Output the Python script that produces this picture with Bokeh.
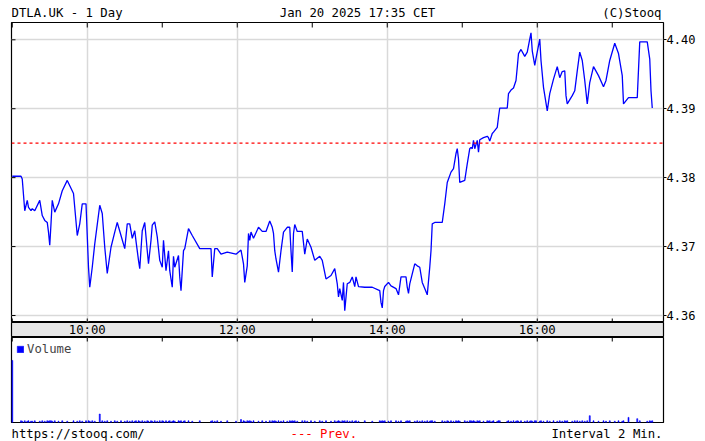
from bokeh.plotting import figure
from bokeh.models import (Range1d, FixedTicker, LinearAxis, Grid, Span,
                          Legend, LegendItem, PrintfTickFormatter)
from bokeh.layouts import column
from bokeh.embed import file_html
from bokeh.resources import INLINE
from bokeh.core.properties import value

# ---------------- data (minutes after 09:00, price, volume) ----------------
minutes = [
    0, 7, 8, 10, 12, 13, 15, 16, 18, 22,
    24, 26, 28, 29, 30, 31, 32, 34, 37, 40,
    44, 49, 52, 54, 56, 59, 61, 62, 64, 66,
    70, 72, 74, 76, 79, 82, 84, 87, 90, 92,
    94, 96, 98, 99, 101, 102, 104, 106, 108, 109,
    111, 112, 114, 116, 118, 120, 121, 123, 125, 126,
    128, 129, 130, 133, 134, 135, 137, 138, 141, 144,
    150, 159, 160, 162, 164, 167, 172, 179, 183, 185,
    186, 188, 189, 190, 191, 193, 197, 200, 203, 206,
    208, 209, 210, 211, 213, 215, 217, 220, 222, 223,
    224, 225, 226, 228, 232, 234, 236, 239, 242, 246,
    248, 251, 255, 258, 260, 261, 262, 264, 265, 266,
    268, 270, 272, 274, 275, 277, 282, 288, 294, 295,
    296, 297, 298, 301, 303, 307, 309, 311, 315, 316,
    317, 318, 322, 324, 326, 328, 330, 332, 334, 335,
    336, 338, 344, 346, 348, 349, 351, 353, 355, 356,
    357, 358, 362, 364, 366, 367, 368, 369, 370, 372,
    373, 374, 377, 380, 381, 382, 384, 385, 388, 389,
    390, 396, 397, 399, 401, 403, 404, 405, 407, 410,
    412, 414, 415, 416, 418, 419, 422, 423, 425, 428,
    430, 433, 436, 438, 440, 442, 443, 444, 448, 450,
    452, 454, 456, 458, 460, 462, 465, 469, 473, 475,
    478, 482, 485, 488, 489, 493, 500, 502, 508, 510,
    511, 512,
]
prices = [
    4.3802, 4.3802, 4.3798, 4.3752, 4.3767, 4.3757, 4.3752, 4.3755, 4.3752, 4.3767,
    4.3745, 4.3738, 4.3735, 4.3721, 4.3702, 4.3733, 4.3767, 4.3750, 4.3762, 4.3781,
    4.3796, 4.3777, 4.3716, 4.3733, 4.3762, 4.3762, 4.3670, 4.3641, 4.3670, 4.3704,
    4.3760, 4.3748, 4.3699, 4.3661, 4.3699, 4.3721, 4.3735, 4.3716, 4.3697, 4.3733,
    4.3733, 4.3712, 4.3723, 4.3708, 4.3680, 4.3668, 4.3723, 4.3735, 4.3694, 4.3675,
    4.3709, 4.3731, 4.3736, 4.3714, 4.3680, 4.3670, 4.3709, 4.3665, 4.3694, 4.3665,
    4.3641, 4.3686, 4.3670, 4.3687, 4.3656, 4.3636, 4.3694, 4.3697, 4.3726, 4.3716,
    4.3697, 4.3697, 4.3656, 4.3697, 4.3697, 4.3689, 4.3692, 4.3689, 4.3695, 4.3675,
    4.3648, 4.3672, 4.3719, 4.3709, 4.3721, 4.3712, 4.3728, 4.3722, 4.3722, 4.3737,
    4.3728, 4.3719, 4.3694, 4.3682, 4.3663, 4.3694, 4.3721, 4.3728, 4.3728, 4.3694,
    4.3663, 4.3719, 4.3732, 4.3722, 4.3722, 4.3689, 4.3711, 4.3699, 4.3680, 4.3686,
    4.3680, 4.3653, 4.3658, 4.3668, 4.3646, 4.3627, 4.3639, 4.3622, 4.3648, 4.3607,
    4.3646, 4.3648, 4.3656, 4.3642, 4.3656, 4.3642, 4.3641, 4.3641, 4.3636, 4.3619,
    4.3611, 4.3636, 4.3642, 4.3648, 4.3643, 4.3639, 4.3630, 4.3656, 4.3656, 4.3641,
    4.3632, 4.3646, 4.3675, 4.3672, 4.3670, 4.3648, 4.3639, 4.3630, 4.3670, 4.3694,
    4.3733, 4.3735, 4.3735, 4.3762, 4.3793, 4.3798, 4.3808, 4.3813, 4.3835, 4.3842,
    4.3827, 4.3793, 4.3796, 4.3820, 4.3842, 4.3844, 4.3842, 4.3854, 4.3842, 4.3854,
    4.3837, 4.3855, 4.3858, 4.3860, 4.3858, 4.3853, 4.3864, 4.3866, 4.3873, 4.3888,
    4.3901, 4.3901, 4.3922, 4.3927, 4.3930, 4.3941, 4.3960, 4.3980, 4.3986, 4.3976,
    4.3982, 4.4001, 4.4010, 4.3984, 4.3963, 4.3973, 4.4001, 4.3970, 4.3931, 4.3897,
    4.3922, 4.3943, 4.3961, 4.3945, 4.3954, 4.3955, 4.3919, 4.3907, 4.3919, 4.3926,
    4.3955, 4.3982, 4.3970, 4.3941, 4.3907, 4.3938, 4.3961, 4.3948, 4.3932, 4.3941,
    4.3970, 4.3995, 4.3980, 4.3948, 4.3907, 4.3916, 4.3916, 4.3997, 4.3997, 4.3972,
    4.3926, 4.3901,
]
volume = [
    73, 2, 1.5, 2, 1.5, 2, 1.5, 1.5, 2, 1.5,
    2, 1.5, 2, 1.5, 2, 2, 1.5, 2, 1.5, 2,
    1.5, 2, 1.5, 2, 1.5, 2, 2, 1.5, 2, 1.5,
    10, 2, 1.5, 2, 1.5, 2, 1.5, 2, 1.5, 2,
    1.5, 2, 1.5, 2, 2, 1.5, 2, 1.5, 2, 1.5,
    2, 1.5, 2, 1.5, 2, 2, 1.5, 2, 1.5, 2,
    1.5, 2, 1.5, 2, 1.5, 2, 1.5, 2, 2, 1.5,
    2, 1.5, 2, 1.5, 2, 1.5, 2, 1.5, 3.5, 2,
    1.5, 2, 1.5, 2, 1.5, 2, 1.5, 2, 1.5, 2,
    2, 1.5, 2, 1.5, 2, 1.5, 2, 1.5, 2, 1.5,
    2, 1.5, 2, 1.5, 2, 2, 1.5, 2, 1.5, 2,
    1.5, 2, 1.5, 2, 1.5, 2, 1.5, 2, 1.5, 2,
    2, 1.5, 2, 1.5, 2, 1.5, 2, 1.5, 2, 1.5,
    2, 1.5, 2, 1.5, 2, 2, 1.5, 2, 1.5, 2,
    1.5, 2, 1.5, 2, 1.5, 2, 1.5, 2, 1.5, 2,
    2, 1.5, 2, 1.5, 2, 1.5, 2, 1.5, 2, 1.5,
    2, 1.5, 2, 1.5, 2, 2, 1.5, 2, 1.5, 2,
    1.5, 2, 1.5, 2, 1.5, 2, 1.5, 2, 1.5, 2,
    2, 1.5, 2, 1.5, 2, 1.5, 2, 1.5, 2, 1.5,
    2, 1.5, 2, 1.5, 2, 2, 1.5, 2, 1.5, 2,
    1.5, 2, 1.5, 2, 1.5, 2, 1.5, 2, 1.5, 2,
    2, 1.5, 2, 1.5, 2, 8, 2, 1.5, 2, 1.5,
    2, 1.5, 2, 1.5, 2, 6, 4.5, 2, 1.5, 2,
    1.5, 2,
]
prev_close = 4.385

hour_ticks = [0, 60, 120, 180, 240, 300, 360, 420, 480]
label_ticks = [60, 180, 300, 420]
tick_labels = ["10:00", "12:00", "14:00", "16:00"]
price_ticks = [4.36, 4.37, 4.38, 4.39, 4.40]

title_left = "DTLA.UK - 1 Day"
title_mid = "Jan 20 2025 17:35 CET"
title_right = "(C)Stooq"
foot_left = "https://stooq.com/"
foot_mid = "--- Prev."
foot_right = "Interval 2 Min."

# ---------------- styling / layout ----------------
MONO = "DejaVu Sans Mono"
FS = "12.3px"
W = 705
BL, BR = 11, 42                 # every frame spans page x 11 .. 663
FRAME_W = W - BL - BR
GRID = "#d9d9d9"
LINE = "#0000ff"
COMMON = dict(output_backend="svg", toolbar_location=None,
              x_axis_location=None, y_axis_location=None)

x_range = Range1d(-0.6, 521.0)
x_per_px = (x_range.end - x_range.start) / FRAME_W


def clean(fig):
    fig.grid.visible = False
    fig.min_border_left = BL
    fig.min_border_right = BR


def text_fig(height, items):
    # frame spans page x BL..W-BR, so use page pixels as coordinates
    h = figure(width=W, height=height, x_range=Range1d(BL, W - BR), y_range=Range1d(0, height),
               min_border_top=0, min_border_bottom=0, outline_line_color=None, **COMMON)
    clean(h)
    for txt, xx, yy, al, col in items:
        h.text(x=[xx], y=[yy], text=[txt], text_font=value(MONO), text_font_size=FS,
               text_align=al, text_baseline="middle", text_color=col)
    return h


# ---------------- header ----------------
head = text_fig(21, [(title_left, 11, 9, "left", "black"),
                     (title_mid, 357, 9, "center", "black"),
                     (title_right, 661, 9, "right", "black")])

# ---------------- price panel ----------------
PFRAME = 300
y_range = Range1d(4.358984, 4.402510)
y_per_px = (y_range.end - y_range.start) / PFRAME
p = figure(width=W, height=PFRAME + 1, x_range=x_range, y_range=y_range,
           min_border_top=1, min_border_bottom=0, **COMMON)
clean(p)
p.outline_line_color = "black"
p.outline_line_width = 1.2
p.add_layout(Grid(dimension=0, ticker=FixedTicker(ticks=label_ticks), grid_line_color=GRID, grid_line_width=1.5), "center")
p.add_layout(Grid(dimension=1, ticker=FixedTicker(ticks=price_ticks), grid_line_color=GRID, grid_line_width=1.5), "center")

ry = LinearAxis(ticker=FixedTicker(ticks=price_ticks), major_tick_in=0, major_tick_out=3,
                minor_tick_line_color=None, axis_line_color=None, major_label_standoff=0,
                major_label_text_font=MONO, major_label_text_font_size="12px",
                major_label_text_color="black",
                formatter=PrintfTickFormatter(format="%.2f"))
p.add_layout(ry, "right")

# inner tick marks (top, bottom: hourly; left: price ticks)
n_h = len(hour_ticks)
p.segment(x0=hour_ticks, x1=hour_ticks, y0=[y_range.end] * n_h,
          y1=[y_range.end - 5 * y_per_px] * n_h, line_color="black", line_width=1)
p.segment(x0=hour_ticks, x1=hour_ticks, y0=[y_range.start] * n_h,
          y1=[y_range.start + 4 * y_per_px] * n_h, line_color="black", line_width=1)
n_p = len(price_ticks)
p.segment(x0=[x_range.start] * n_p, x1=[x_range.start + 4 * x_per_px] * n_p,
          y0=price_ticks, y1=price_ticks, line_color="black", line_width=1)

p.add_layout(Span(location=prev_close, dimension="width", line_color="#ff0000",
                  line_dash="3 3", line_width=1.2))
p.line(minutes, prices, line_color=LINE, line_width=1.3)

# ---------------- time label strip ----------------
s = figure(width=W, height=15, x_range=x_range, y_range=Range1d(0, 1),
           min_border_top=0, min_border_bottom=0,
           background_fill_color="#e6e6e6", outline_line_color="black", outline_line_width=1.2,
           **COMMON)
clean(s)
s.text(x=label_ticks, y=[0.5] * len(label_ticks), text=tick_labels, text_font=value(MONO),
       text_font_size="12.3px", text_align="center", text_baseline="middle", text_color="black")

# ---------------- volume panel ----------------
VFRAME = 85
v_range = Range1d(0, 100)
v = figure(width=W, height=VFRAME + 1, x_range=x_range, y_range=v_range,
           min_border_top=0, min_border_bottom=1, **COMMON)
clean(v)
v.outline_line_color = "black"
v.outline_line_width = 1.2
v.add_layout(Grid(dimension=0, ticker=FixedTicker(ticks=label_ticks), grid_line_color=GRID, grid_line_width=1.5), "center")
v_per_px = (v_range.end - v_range.start) / VFRAME
v.segment(x0=hour_ticks, x1=hour_ticks, y0=[v_range.end] * n_h,
          y1=[v_range.end - 4 * v_per_px] * n_h, line_color="black", line_width=1)
vb = v.vbar(x=minutes, top=volume, width=0.8, fill_color=LINE, line_color=LINE, line_width=0.6)
leg = Legend(items=[LegendItem(label="Volume", renderers=[vb])], location="top_left",
             border_line_color=None, background_fill_alpha=0, label_text_font=MONO,
             label_text_font_size="12.3px", glyph_width=8, glyph_height=8, margin=5,
             padding=2, label_standoff=3, label_height=12)
v.add_layout(leg)

# ---------------- footer ----------------
foot = text_fig(18, [(foot_left, 11, 7.7, "left", "black"),
                     (foot_mid, 290, 7.7, "left", "#ff0000"),
                     (foot_right, 662, 7.7, "right", "black")])

layout = column(head, p, s, v, foot, spacing=0)
open("out.html", "w").write(file_html(layout, INLINE))
